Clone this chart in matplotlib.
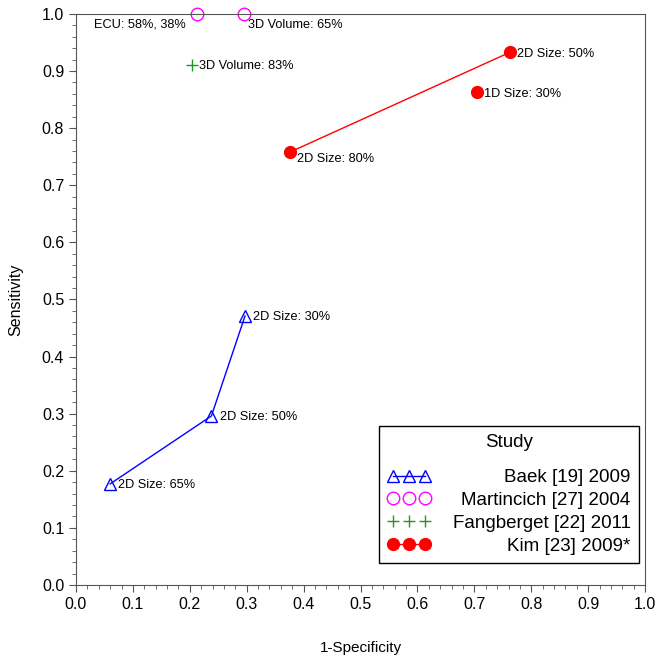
import numpy as np
import matplotlib
matplotlib.use("Agg")
import matplotlib.pyplot as plt
from matplotlib.ticker import MultipleLocator, AutoMinorLocator

plt.rcParams['font.family'] = ['Liberation Sans', 'DejaVu Sans']
plt.rcParams['font.size'] = 11

# data (1-specificity, sensitivity)
baek_x = [0.060, 0.238, 0.297]
baek_y = [0.177, 0.296, 0.471]
baek_lab = ['2D Size: 65%', '2D Size: 50%', '2D Size: 30%']

mart_x = [0.213, 0.295]
mart_y = [1.0, 1.0]

fang_x = [0.204]
fang_y = [0.911]
fang_lab = ['3D Volume: 83%']

kim_x = [0.376, 0.763]
kim_y = [0.758, 0.933]
kim_lab = ['2D Size: 80%', '2D Size: 50%']
kim1d_x = [0.705]
kim1d_y = [0.863]

fig = plt.figure(figsize=(6.63, 6.61), dpi=100)
ax = fig.add_axes([0.1146, 0.115, 0.8584, 0.864])

hb, = ax.plot(baek_x, baek_y, color='blue', lw=1, marker='^', ms=9,
              mfc='none', mec='blue', clip_on=False, label='Baek [19] 2009')
hm, = ax.plot(mart_x, mart_y, ls='none', marker='o', ms=9, mfc='none',
              mec='magenta', clip_on=False, label='Martincich [27] 2004')
hf, = ax.plot(fang_x, fang_y, ls='none', marker='+', ms=9, mew=1,
              color='#1a9a1a', clip_on=False, label='Fangberget [22] 2011')
hk, = ax.plot(kim_x, kim_y, color='red', lw=1, marker='o', ms=8.5,
              mfc='red', mec='red', clip_on=False, label='Kim [23] 2009*')
ax.plot(kim1d_x, kim1d_y, ls='none', marker='o', ms=8.5, color='red')

fs = 9.2
for x, y, s in zip(baek_x, baek_y, baek_lab):
    ax.annotate(s, (x, y), xytext=(6, -1), textcoords='offset points',
                fontsize=fs, va='center')
ax.annotate(fang_lab[0], (fang_x[0], fang_y[0]), xytext=(5, -1),
            textcoords='offset points', fontsize=fs, va='center')
ax.annotate('ECU: 58%, 38%', (mart_x[0], mart_y[0]), xytext=(-74, -8),
            textcoords='offset points', fontsize=fs, va='center')
ax.annotate('3D Volume: 65%', (mart_x[1], mart_y[1]), xytext=(3, -8),
            textcoords='offset points', fontsize=fs, va='center')
ax.annotate(kim_lab[0], (kim_x[0], kim_y[0]), xytext=(5, -5),
            textcoords='offset points', fontsize=fs, va='center')
ax.annotate(kim_lab[1], (kim_x[1], kim_y[1]), xytext=(5, -1),
            textcoords='offset points', fontsize=fs, va='center')
ax.annotate('1D Size: 30%', (kim1d_x[0], kim1d_y[0]), xytext=(5, -1),
            textcoords='offset points', fontsize=fs, va='center')

ax.set_xlim(0, 1)
ax.set_ylim(0, 1)
ax.xaxis.set_major_locator(MultipleLocator(0.1))
ax.yaxis.set_major_locator(MultipleLocator(0.1))
ax.xaxis.set_minor_locator(AutoMinorLocator(5))
ax.yaxis.set_minor_locator(AutoMinorLocator(5))
ax.xaxis.set_major_formatter(plt.FormatStrFormatter('%.1f'))
ax.yaxis.set_major_formatter(plt.FormatStrFormatter('%.1f'))
ax.tick_params(which='major', length=5, color='#555555', labelsize=11.5)
ax.tick_params(which='minor', length=3, color='#555555')
for sp in ax.spines.values():
    sp.set_color('#555555')
ax.set_xlabel('1-Specificity', fontsize=11, labelpad=21)
ax.set_ylabel('Sensitivity', fontsize=11.5, labelpad=13)

leg = ax.legend(handles=[hb, hm, hf, hk], title='Study', numpoints=3,
                loc='lower right', bbox_to_anchor=(0.9895, 0.0385),
                borderaxespad=0,
                fancybox=False, edgecolor='black', framealpha=1,
                fontsize=13.5, title_fontsize=13.5, handlelength=2.3,
                labelspacing=0.3, borderpad=0.45, handletextpad=1.2)
leg.get_frame().set_linewidth(1)
leg._legend_box.sep = 13
fig.canvas.draw()
r = fig.canvas.get_renderer()
texts = leg.get_texts()
widths = [t.get_window_extent(r).width for t in texts]
w = max(widths)
# right-align the legend labels
for t, wi in zip(texts, widths):
    t.set_position((w - wi, 0))

fig.savefig('out.png', dpi=100)
